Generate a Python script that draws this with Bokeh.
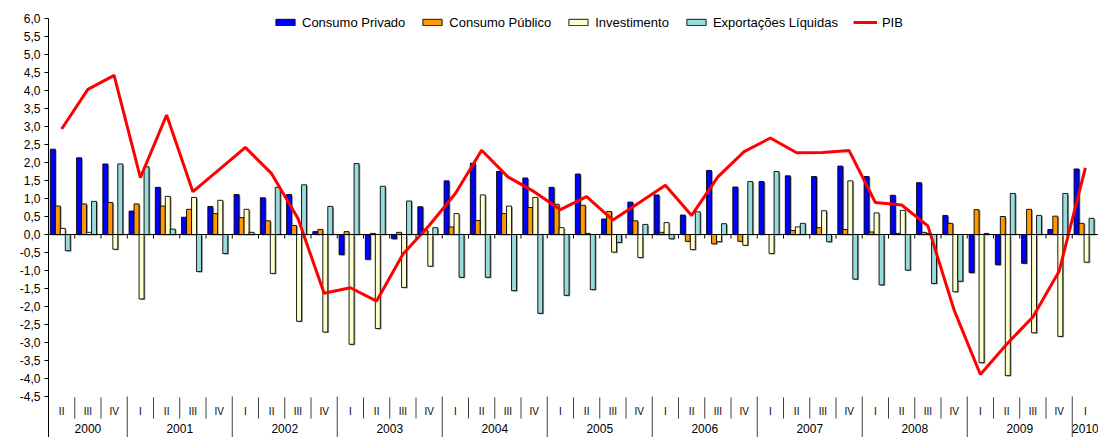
import numpy as np
from bokeh.plotting import figure
from bokeh.models import (ColumnDataSource, FixedTicker, CustomJSTickFormatter,
                          Span, Legend, LegendItem)
from bokeh.core.properties import value
from bokeh.embed import file_html
from bokeh.resources import INLINE

# ---------------- data ----------------
trimestres = ["II", "III", "IV"] + ["I", "II", "III", "IV"] * 9 + ["I"]
anos = ["2000", "2001", "2002", "2003", "2004", "2005", "2006", "2007", "2008", "2009", "2010"]

consumo_privado = [2.37, 2.13, 1.96, 0.65, 1.31, 0.48, 0.78, 1.11, 1.02, 1.11,
                   0.08, -0.56, -0.69, -0.12, 0.77, 1.49, 1.98, 1.75, 1.57, 1.31,
                   1.68, 0.43, 0.90, 1.10, 0.54, 1.78, 1.32, 1.47, 1.63, 1.61,
                   1.90, 1.61, 1.09, 1.44, 0.53, -1.06, -0.84, -0.80, 0.14, 1.82]
consumo_publico = [0.79, 0.85, 0.89, 0.85, 0.79, 0.70, 0.58, 0.47, 0.38, 0.25,
                   0.14, 0.08, 0.03, 0.06, 0.12, 0.21, 0.39, 0.58, 0.75, 0.84,
                   0.81, 0.64, 0.38, 0.06, -0.19, -0.26, -0.19, 0.00, 0.11, 0.19,
                   0.14, 0.07, 0.03, 0.06, 0.31, 0.69, 0.50, 0.70, 0.51, 0.31]
investimento = [0.17, 0.06, -0.41, -1.79, 1.06, 1.03, 0.95, 0.70, -1.08, -2.41,
                -2.71, -3.05, -2.61, -1.47, -0.88, 0.58, 1.10, 0.79, 1.03, 0.19,
                0.03, -0.49, -0.64, 0.33, -0.42, -0.20, -0.30, -0.53, 0.21, 0.66,
                1.49, 0.60, 0.67, 0.03, -1.59, -3.56, -3.92, -2.73, -2.83, -0.77]
exportacoes_liquidas = [-0.45, 0.92, 1.96, 1.88, 0.15, -1.03, -0.53, 0.06, 1.31, 1.38,
                        0.78, 1.97, 1.34, 0.93, 0.19, -1.19, -1.19, -1.56, -2.19, -1.69,
                        -1.53, -0.22, 0.28, -0.12, 0.63, 0.30, 1.47, 1.75, 0.31, -0.20,
                        -1.24, -1.40, -0.99, -1.36, -1.30, 0.03, 1.14, 0.53, 1.14, 0.45]
pib = [2.93, 4.03, 4.42, 1.58, 3.32, 1.19, 1.80, 2.42, 1.69, 0.45,
       -1.63, -1.48, -1.85, -0.55, 0.25, 1.14, 2.34, 1.60, 1.19, 0.69,
       1.05, 0.40, 0.88, 1.37, 0.53, 1.60, 2.30, 2.68, 2.27, 2.28,
       2.33, 0.89, 0.82, 0.24, -2.10, -3.89, -3.05, -2.29, -1.02, 1.85]

series_nomes = ["Consumo Privado", "Consumo Público", "Investimento", "Exportações Líquidas"]
series_vals = [consumo_privado, consumo_publico, investimento, exportacoes_liquidas]
series_cores = ["#0000FF", "#FF9900", "#FFFFCC", "#99DCDC"]

# ---------------- figure ----------------
n = len(trimestres)
W, H = 1098, 437
px = 1.0 / 36.0
Y_TOP = 6.0 + 18 * px
Y_BOT = -4.5 - 41 * px

p = figure(width=W, height=H, x_range=(0, n), y_range=(Y_BOT, Y_TOP),
           output_backend="svg", toolbar_location=None, x_axis_location=None,
           min_border_left=48, min_border_right=0, min_border_top=0, min_border_bottom=0)
p.xgrid.visible = False
p.ygrid.visible = False
p.outline_line_color = None
p.background_fill_color = "white"

yax = p.yaxis[0]
yax.ticker = FixedTicker(ticks=[round(-4.5 + 0.5 * k, 1) for k in range(22)])
yax.formatter = CustomJSTickFormatter(code="return tick.toFixed(1).replace('.', ',');")
yax.bounds = (Y_BOT, 6.0)
yax.major_label_text_font = "Liberation Sans"
yax.major_label_text_font_size = "12px"
yax.major_label_text_color = "black"
yax.major_tick_out = 4
yax.major_tick_in = 0
yax.minor_tick_out = 0
yax.minor_tick_in = 0
yax.major_label_standoff = 4
yax.axis_line_color = "black"
yax.major_tick_line_color = "black"

# zero line
p.add_layout(Span(location=0, dimension="width", line_color="black", line_width=1))

idx = np.arange(n)
centers = idx + 0.5

# bars
bw = 0.19
offs = [0.165, 0.355, 0.545, 0.735]
bar_renderers = []
for vals, cor, off in zip(series_vals, series_cores, offs):
    v = np.array(vals, dtype=float)
    sh = ColumnDataSource(dict(x=idx + off + 0.05, top=v - 1.0 * px, bottom=np.zeros(n) - 1.0 * px))
    p.vbar(x="x", top="top", bottom="bottom", width=bw, source=sh,
           fill_color="#7a7a7a", fill_alpha=0.8, line_color=None)
    src = ColumnDataSource(dict(x=idx + off, top=v, bottom=np.zeros(n)))
    r = p.vbar(x="x", top="top", bottom="bottom", width=bw, source=src,
               fill_color=cor, line_color="black", line_width=0.9)
    bar_renderers.append(r)

# PIB line
lsrc = ColumnDataSource(dict(x=centers, y=pib))
rl = p.line(x="x", y="y", source=lsrc, line_color="#FF0000", line_width=3)

# small ticks on the zero line at category boundaries
b = idx[1:].astype(float)
p.segment(x0=b, y0=np.zeros(n - 1), x1=b, y1=np.full(n - 1, -4 * px),
          line_color="black", line_width=1)

# category axis at bottom
Y_AX = -4.5
is_year_start = np.array([t == "I" for t in trimestres])
q_bounds = [float(i) for i in range(1, n) if not is_year_start[i]]
y_bounds = [0.0] + [float(i) for i in range(1, n) if is_year_start[i]]
p.segment(x0=q_bounds, y0=[Y_AX - 1 * px] * len(q_bounds), x1=q_bounds,
          y1=[Y_AX - 22 * px] * len(q_bounds), line_color="#404040", line_width=1)
p.segment(x0=y_bounds, y0=[Y_AX] * len(y_bounds), x1=y_bounds,
          y1=[Y_BOT] * len(y_bounds), line_color="#404040", line_width=1)

p.text(x=centers, y=[Y_AX - 15 * px] * n, text=trimestres,
       text_font=value("Liberation Sans"), text_font_size=value("10px"),
       text_align="center", text_baseline="middle", text_color="black")

# year label centers from quarter sequence
edges = y_bounds + [float(n)]
ano_x = [(edges[k] + edges[k + 1]) / 2 for k in range(len(anos))]
p.text(x=ano_x, y=[Y_AX - 32 * px] * len(anos), text=anos,
       text_font=value("Liberation Sans"), text_font_size=value("12px"),
       text_align="center", text_baseline="middle", text_color="black")

# legend
items = [LegendItem(label=nm, renderers=[r]) for nm, r in zip(series_nomes, bar_renderers)]
items.append(LegendItem(label="PIB", renderers=[rl]))
leg = Legend(items=items, orientation="horizontal", location=(225, 407),
             glyph_width=24, glyph_height=8, label_height=16, label_standoff=5,
             spacing=15, padding=0, margin=0,
             label_text_font="Liberation Sans", label_text_font_size="13px",
             label_text_color="black", border_line_alpha=0, background_fill_alpha=0)
p.add_layout(leg)

open("out.html", "w").write(file_html(p, INLINE))
